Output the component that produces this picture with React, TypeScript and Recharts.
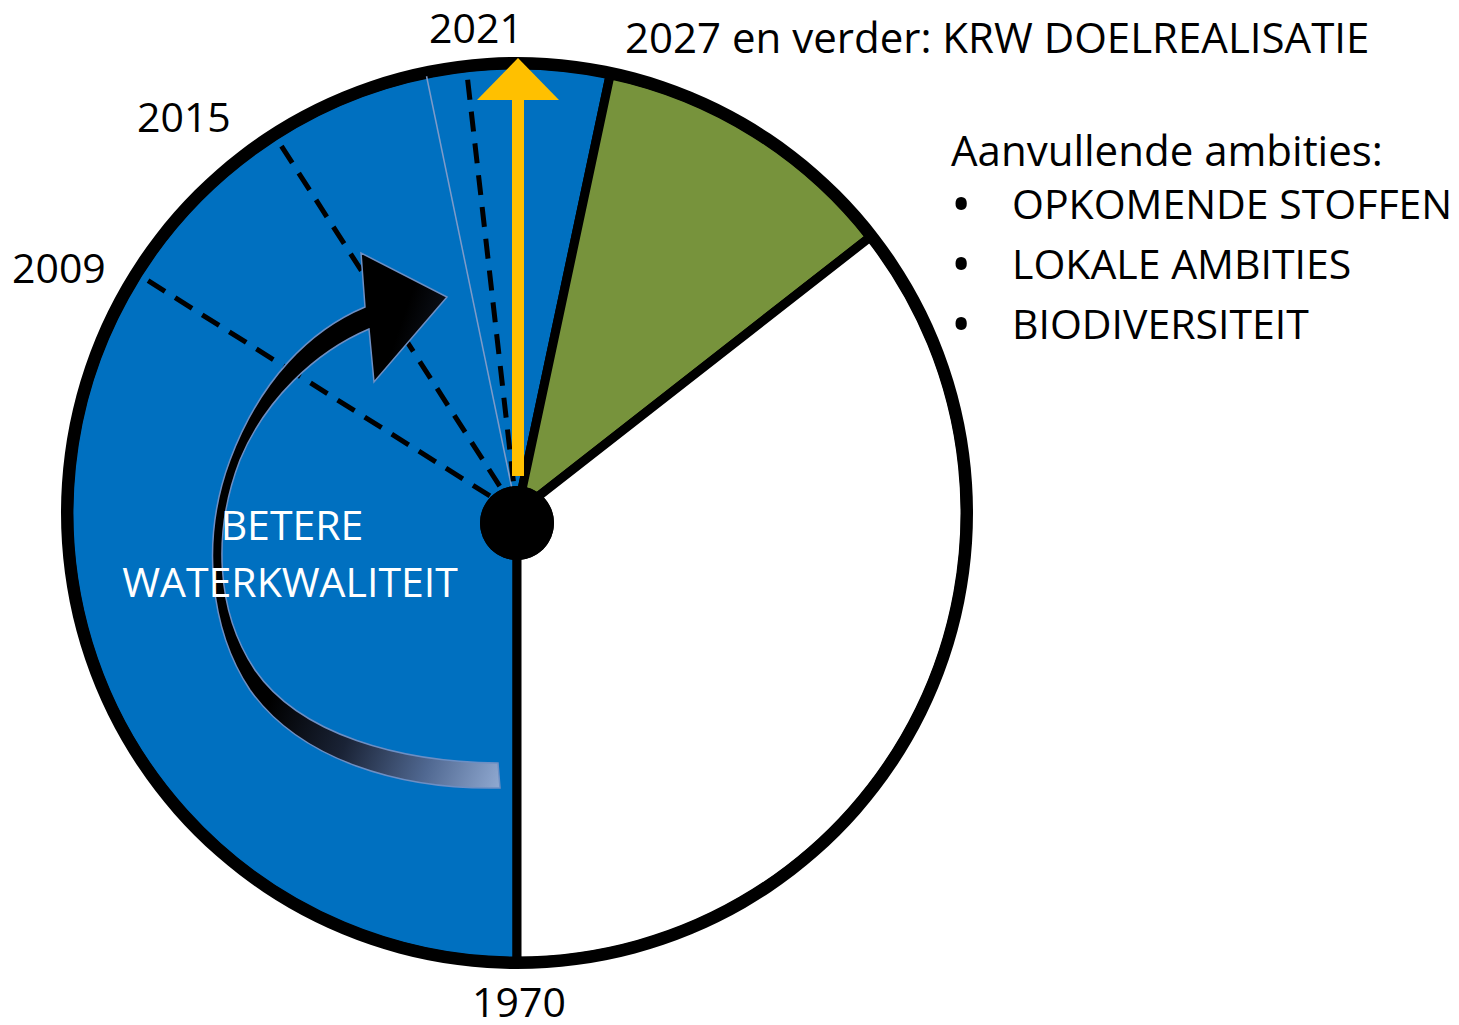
import React from 'react';
import { PieChart, Pie, Cell } from 'recharts';

if (typeof document !== 'undefined') {
  document.body.style.margin = '0';
  document.body.style.overflow = 'hidden';
}

const W = 1459;
const H = 1025;
const CX = 517;
const CY = 513;
const R = 448;
const FONT = '"Open Sans", "Noto Sans", sans-serif';

// the dial, in degrees clockwise starting from 1970 at the bottom
const sliceNames = ['1970 - 2027', '2027 en verder', 'Aanvullende ambities'];
const sliceDegrees = [192, 40, 128];
const sliceColors = ['#0070C0', '#77933C', '#FFFFFF'];

// milestones, degrees from north (negative = west)
const milestoneYears = ['2009', '2015', '2021'];
const milestoneAngles = [-57.8, -32.7, -6.5];
const guideAngle = -11.7;

const ambitions = ['OPKOMENDE STOFFEN', 'LOKALE AMBITIES', 'BIODIVERSITEIT'];

const sliceData = sliceNames.map((name, i) => ({ name, value: sliceDegrees[i] }));
const ringData = [{ name: 'ring', value: 1 }];
const hubData = [{ name: 'hub', value: 1 }];

const polar = (deg: number, r: number) => {
  const a = (deg * Math.PI) / 180;
  return { x: CX + r * Math.sin(a), y: CY - r * Math.cos(a) };
};

// curved arrow "betere waterkwaliteit"
const curvedArrow = [
  'M 500 788',
  'C 400 790, 300 760, 250 690',
  'C 210 630, 200 540, 230 460',
  'C 260 380, 310 330, 365 307',
  'L 361 253 L 447 297 L 374 382 L 369 329',
  'C 315 352, 265 400, 240 460',
  'C 213 530, 215 610, 255 670',
  'C 300 735, 400 762, 498 763',
  'Z',
].join(' ');

// drawn over the pie: milestone lines, arrows, texts
const Overlay = () => {
  const g0 = polar(guideAngle, 0);
  const g1 = polar(guideAngle, 446);
  const ax = CX + 1;
  return (
    <svg
      width={W}
      height={H}
      style={{ position: 'absolute', left: 0, top: 0, pointerEvents: 'none' }}
    >
      <defs>
        <linearGradient id="arrowFade" gradientUnits="userSpaceOnUse" x1={270} y1={700} x2={500} y2={780}>
          <stop offset="0" stopColor="#000000" />
          <stop offset="0.35" stopColor="#1a2336" />
          <stop offset="0.7" stopColor="#506891" />
          <stop offset="1" stopColor="#8ea7cf" />
        </linearGradient>
      </defs>
      <line x1={g0.x} y1={g0.y} x2={g1.x} y2={g1.y} stroke="#7f9bc8" strokeWidth={1.5} />
      {milestoneAngles.map((a, i) => {
        const p0 = polar(a, 30);
        const p1 = polar(a, 436);
        return (
          <line
            key={milestoneYears[i]}
            x1={p1.x}
            y1={p1.y}
            x2={p0.x}
            y2={p0.y}
            stroke="#000"
            strokeWidth={5}
            strokeDasharray="20 12"
          />
        );
      })}
      <circle cx={CX} cy={CY + 10} r={37} fill="#000" />
      <path d={curvedArrow} fill="url(#arrowFade)" stroke="#6d8fc4" strokeWidth={1.5} />
      <rect x={ax - 6} y={100} width={12} height={376} fill="#FFC000" />
      <polygon points={`${ax - 41},100 ${ax + 41},100 ${ax},58`} fill="#FFC000" />

      <g fontFamily={FONT} fill="#000">
        <text x={476} y={43} fontSize={41} textAnchor="middle">2021</text>
        <text x={625} y={53} fontSize={42}>2027 en verder: KRW DOELREALISATIE</text>
        <text x={137} y={132} fontSize={41}>2015</text>
        <text x={12} y={283} fontSize={41}>2009</text>
        <text x={519} y={1017} fontSize={41} textAnchor="middle">1970</text>
        <text x={951} y={166} fontSize={42}>Aanvullende ambities:</text>
        {ambitions.map((t, i) => (
          <text key={t} x={951} y={219 + i * 60} fontSize={41}>
            <tspan fontSize={54} dy={5}>•</tspan>
            <tspan x={1012} dy={-5}>{t}</tspan>
          </text>
        ))}
      </g>
      <g fontFamily={FONT} fill="#fff" fontSize={41} textAnchor="middle">
        <text x={292} y={540}>BETERE</text>
        <text x={290} y={597}>WATERKWALITEIT</text>
      </g>
    </svg>
  );
};

export default function App() {
  return (
    <div style={{ position: 'relative', width: W, height: H, background: '#fff' }}>
      <PieChart width={W} height={H} margin={{ top: 0, right: 0, bottom: 0, left: 0 }}>
        <Pie
          data={sliceData}
          dataKey="value"
          nameKey="name"
          cx={CX}
          cy={CY}
          outerRadius={R}
          startAngle={-90}
          endAngle={-450}
          stroke="#000"
          strokeWidth={9}
          isAnimationActive={false}
        >
          {sliceData.map((d, i) => (
            <Cell key={d.name} fill={sliceColors[i]} />
          ))}
        </Pie>
        <Pie
          data={ringData}
          dataKey="value"
          cx={CX}
          cy={CY}
          innerRadius={R - 4}
          outerRadius={R + 8}
          fill="#000"
          stroke="none"
          isAnimationActive={false}
        />
        <Pie
          data={hubData}
          dataKey="value"
          cx={CX}
          cy={CY + 10}
          outerRadius={37}
          fill="#000"
          stroke="none"
          isAnimationActive={false}
        />
      </PieChart>
      <Overlay />
    </div>
  );
}
